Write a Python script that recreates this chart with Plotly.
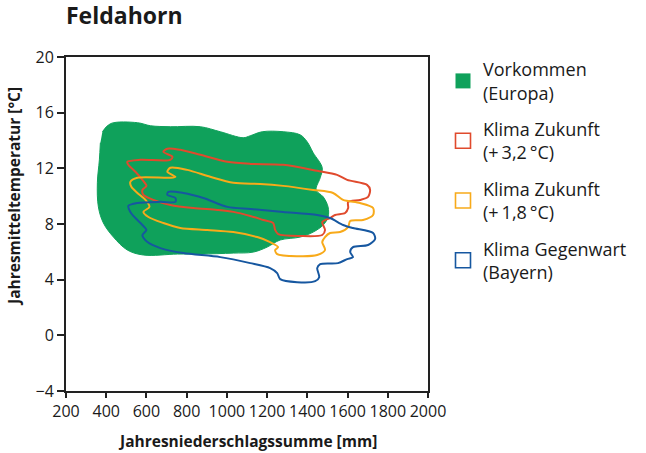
import plotly.graph_objects as go

# ---- data (precipitation mm, mean temperature °C) ----
green_x = [381, 421, 555, 620, 719, 868, 967, 1081, 1116, 1176, 1280, 1364, 1399, 1429, 1474, 1464, 1444, 1479, 1503, 1503,
           1479, 1429, 1364, 1265, 1200, 1131, 1032, 868, 754, 585, 505, 436, 386, 361, 356, 366, 371]
green_y = [14.63, 15.21, 15.28, 15.06, 14.99, 14.99, 14.63, 14.20, 14.34, 14.63, 14.63, 14.41, 13.91, 13.12, 12.04, 11.32, 10.45, 9.95, 9.23, 8.50,
           7.93, 7.42, 7.06, 6.85, 6.34, 5.98, 5.91, 5.84, 5.84, 5.77, 6.13, 7.06, 8.07, 9.23, 10.96, 12.61, 13.84]

red_x = [505, 570, 719, 729, 684, 704, 768, 868, 1002, 1116, 1280, 1449, 1548, 1598, 1697, 1712, 1702, 1662, 1603, 1603, 1588,
         1538, 1513, 1474, 1488, 1474, 1364, 1255, 1240, 1230, 1181, 1116, 1032, 952, 833, 719, 634, 585, 580, 600, 580, 545, 510, 505]
red_y = [12.47, 12.61, 12.61, 12.83, 13.19, 13.41, 13.33, 12.97, 12.47, 12.32, 12.25, 11.82, 11.53, 11.17, 10.81, 10.45, 9.95, 9.73, 9.59, 9.15, 8.79,
         8.65, 8.43, 8.14, 7.57, 7.21, 7.14, 7.28, 7.57, 8.07, 8.29, 8.58, 8.87, 9.01, 9.15, 9.37, 9.73, 10.09, 10.45, 10.74, 11.17, 11.75, 12.25, 12.47]

orange_x = [520, 555, 719, 744, 704, 719, 803, 917, 1032, 1166, 1280, 1429, 1528, 1578, 1662, 1727, 1727, 1677, 1613, 1603, 1563,
            1513, 1488, 1474, 1488, 1449, 1349, 1250, 1240, 1255, 1215, 1151, 1032, 903, 768, 684, 610, 585, 615, 595, 555, 525, 520]
orange_y = [11.03, 11.32, 11.32, 11.39, 11.75, 12.04, 11.89, 11.39, 10.96, 10.88, 10.74, 10.45, 10.23, 9.73, 9.51, 9.15, 8.65, 8.29, 8.22, 7.78, 7.42,
            7.35, 7.06, 6.70, 6.13, 5.77, 5.69, 5.84, 6.13, 6.34, 6.70, 7.06, 7.42, 7.57, 7.71, 8.07, 8.50, 8.87, 9.23, 9.73, 10.23, 10.67, 11.03]

blue_x = [510, 555, 669, 744, 744, 704, 709, 783, 883, 1002, 1116, 1280, 1449, 1513, 1578, 1627, 1727, 1737, 1702, 1627, 1613,
          1627, 1598, 1553, 1464, 1449, 1459, 1439, 1349, 1265, 1250, 1215, 1116, 967, 783, 669, 605, 580, 600, 580, 545, 520, 510]
blue_y = [9.30, 9.51, 9.59, 9.59, 9.87, 10.09, 10.31, 10.23, 9.87, 9.23, 9.08, 8.87, 8.65, 8.43, 7.93, 7.71, 7.35, 6.92, 6.49, 6.34, 5.98,
          5.62, 5.48, 5.19, 5.12, 4.83, 4.18, 3.89, 3.82, 4.04, 4.47, 4.83, 5.19, 5.62, 5.91, 6.27, 6.70, 7.21, 7.57, 7.93, 8.43, 8.87, 9.30]

x_ticks = [200, 400, 600, 800, 1000, 1200, 1400, 1600, 1800, 2000]
y_ticks = [-4, 0, 4, 8, 12, 16, 20]

names = ["Vorkommen<br>(Europa)", "Klima Zukunft<br>(+\u20093,2\u2009°C)",
         "Klima Zukunft<br>(+\u20091,8\u2009°C)", "Klima Gegenwart<br>(Bayern)"]

GREEN = "#0FA15B"
RED = "#E04A2D"
ORANGE = "#F8AA1A"
BLUE = "#1657A0"
FONT = "Open Sans"
TXT = "#1a1a1a"

# plot-area geometry (pixels)
TOP, BOT = 40, 391
GH = BOT - TOP


def py(p):
    return (BOT - p) / GH


fig = go.Figure()

fig.add_trace(go.Scatter(x=green_x, y=green_y, mode="lines", fill="toself", fillcolor=GREEN,
                         line=dict(color=GREEN, width=1, shape="spline", smoothing=1.0),
                         showlegend=False, hoverinfo="skip"))
for xs, ys, c in [(red_x, red_y, RED), (orange_x, orange_y, ORANGE), (blue_x, blue_y, BLUE)]:
    fig.add_trace(go.Scatter(x=xs, y=ys, mode="lines",
                             line=dict(color=c, width=2, shape="spline", smoothing=0.8),
                             showlegend=False, hoverinfo="skip"))

# legend entries
fig.add_trace(go.Scatter(x=[None], y=[None], mode="markers", name=names[0], legendgroup="a",
                         marker=dict(symbol="square", size=15, color=GREEN)))
for nm, c, g in [(names[1], RED, "b"), (names[2], ORANGE, "c"), (names[3], BLUE, "d")]:
    fig.add_trace(go.Scatter(x=[None], y=[None], mode="markers", name=nm, legendgroup=g,
                             marker=dict(symbol="square-open", size=15, color=c, line=dict(width=1.6, color=c))))

axis_common = dict(showgrid=False, zeroline=False, showline=True, linecolor="#222222", linewidth=2,
                   mirror=True, ticks="outside", tickcolor="#222222", tickwidth=1.5,
                   tickfont=dict(family=FONT, size=16, color=TXT))

fig.update_xaxes(range=[200, 2000], tickvals=x_ticks, ticklen=5, **axis_common)
fig.update_yaxes(range=[-4, 20], tickvals=y_ticks, ticklen=7, domain=[0, py(57)], **axis_common)

fig.update_layout(
    width=646, height=453,
    margin=dict(l=66, r=218, t=TOP, b=453 - BOT),
    paper_bgcolor="white", plot_bgcolor="white",
    font=dict(family=FONT, color=TXT),
    title=dict(text="<b>Feldahorn</b>", x=66 / 646, xanchor="left", y=1 - 16 / 453, yanchor="middle",
               font=dict(family=FONT, size=23, color=TXT)),
    legend=dict(x=(443 - 66) / 362, xanchor="left", y=py(51), yanchor="top",
                font=dict(family=FONT, size=18, color=TXT), tracegroupgap=10,
                bgcolor="rgba(0,0,0,0)", itemclick=False),
    annotations=[
        dict(text="<b>Jahresniederschlagssumme [mm]</b>", xref="paper", yref="paper",
             x=0.5, y=py(441), xanchor="center", yanchor="middle", showarrow=False,
             font=dict(family=FONT, size=15.5, color=TXT)),
        dict(text="<b>Jahresmitteltemperatur [°C]</b>", xref="paper", yref="paper",
             x=(14 - 66) / 362, y=py(197), xanchor="center", yanchor="middle", showarrow=False,
             textangle=-90, font=dict(family=FONT, size=15.5, color=TXT)),
    ],
)

fig.write_html("out.html", config={"displayModeBar": False},
               post_script="document.body.style.margin='0';document.body.style.overflow='hidden';")
